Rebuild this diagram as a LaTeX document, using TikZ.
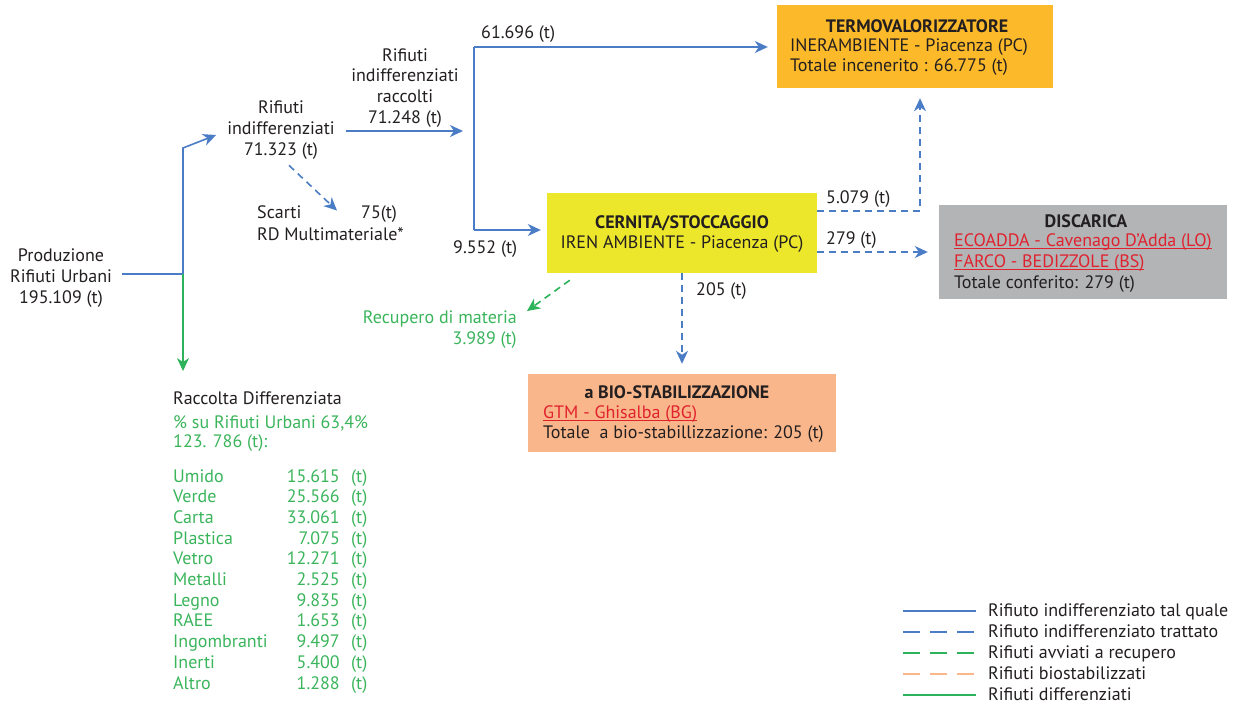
\documentclass[tikz,border=0pt]{standalone}
\usepackage{fontspec}
\setmainfont{PT Sans}
\usetikzlibrary{arrows.meta,positioning}
\definecolor{flowblue}{HTML}{4A7DC5}
\definecolor{flowgreen}{HTML}{2DB35A}
\definecolor{textgreen}{HTML}{3BB55C}
\definecolor{termocol}{HTML}{FCBA2A}
\definecolor{cernitacol}{HTML}{EDE72B}
\definecolor{discacol}{HTML}{B2B4B6}
\definecolor{biocol}{HTML}{F9B68A}
\definecolor{biodash}{HTML}{FBB68A}
\definecolor{sitered}{HTML}{E0222E}
\definecolor{inkdark}{HTML}{231F20}
\newcommand{\site}[1]{{\color{sitered}\setbox0\hbox{#1}\rlap{\rule[-2.5pt]{\wd0}{0.9pt}}\box0}}

\begin{document}
\begin{tikzpicture}[x=1pt,y=-1pt,
  every node/.style={font=\fontsize{18}{20.8}\selectfont, inner sep=0pt, text=inkdark},
  title/.style={font=\fontsize{18}{20.8}\selectfont\bfseries},
  tq/.style={draw=flowblue, line width=1.6pt},
  tqarrow/.style={tq, -{Stealth[length=13pt,width=12pt,inset=4pt]}},
  trarrow/.style={tq, dash pattern=on 7pt off 5pt, -{Stealth[length=13pt,width=12pt,inset=4pt]}},
  recarrow/.style={draw=flowgreen, line width=1.6pt, dash pattern=on 7pt off 5pt, -{Stealth[length=13pt,width=12pt,inset=4pt]}},
  diffarrow/.style={draw=flowgreen, line width=1.6pt, -{Stealth[length=13pt,width=12pt,inset=4pt]}},
  legtq/.style={draw=flowblue, line width=1.8pt},
  legtr/.style={draw=flowblue, line width=1.8pt, dash pattern=on 17pt off 10pt},
  legrec/.style={draw=flowgreen, line width=1.8pt, dash pattern=on 17pt off 10pt},
  legbio/.style={draw=biodash, line width=1.8pt, dash pattern=on 17pt off 10pt},
  legdiff/.style={draw=flowgreen, line width=1.8pt}]
\fill[white] (0,0) rectangle (1234,704);
\useasboundingbox (0,0) rectangle (1234,704);

% impianti
\node[fill=termocol, minimum width=276pt, minimum height=83pt] (termo) at (915,46.5) {};
\node[title] (termo-t) at (917,26) {TERMOVALORIZZATORE};
\node[align=left, anchor=west] (termo-d) at (790,57) {INERAMBIENTE - Piacenza (PC)\\Totale incenerito : 66.775 (t)};

\node[fill=cernitacol, minimum width=270pt, minimum height=80pt] (cern) at (682,233) {};
\node[title] (cern-t) at (682,223) {CERNITA/STOCCAGGIO};
\node (cern-d) at (682,244) {IREN AMBIENTE - Piacenza (PC)};

\node[fill=discacol, minimum width=288pt, minimum height=94pt] (disc) at (1083,252) {};
\node[title] (disc-t) at (1086,221) {DISCARICA};
\node[align=left, anchor=west] (disc-d) at (954,263) {\site{ECOADDA - Cavenago D'Adda (LO)}\\\site{FARCO - BEDIZZOLE (BS)}\\Totale conferito: 279 (t)};

\node[fill=biocol, minimum width=308pt, minimum height=78pt] (bio) at (682,413) {};
\node[title] (bio-t) at (677,392) {a BIO-STABILIZZAZIONE};
\node[align=left, anchor=west] (bio-d) at (543,424) {\site{GTM - Ghisalba (BG)}\\Totale~ a bio-stabillizzazione: 205 (t)};

% flussi
\node[align=center] (prod) at (61,278) {Produzione\\Rifiuti Urbani\\195.109 (t)};
\node[align=center] (rind) at (281,130) {Rifiuti\\indifferenziati\\71.323 (t)};
\node[align=center] (racc) at (405,88) {Rifiuti\\indifferenziati\\raccolti\\71.248 (t)};
\node[anchor=base west] (qtermo) at (481,38) {61.696 (t)};
\node[anchor=base west] (qcern) at (453,253) {9.552 (t)};
\node[anchor=base west] (scarti) at (257,218) {Scarti};
\node[anchor=base west] (qscarti) at (361,218) {75(t)};
\node[anchor=base west] (scarti-rd) at (257,240) {RD Multimateriale*};
\node[anchor=base west] (qtv) at (826,203) {5.079 (t)};
\node[anchor=base west] (qdisc) at (826,244) {279 (t)};
\node[anchor=base west] (qbio) at (696,295) {205 (t)};
\node[align=right, anchor=east, text=textgreen] (recup) at (517,330) {Recupero di materia\\3.989 (t)};

\coordinate (split) at (183,274);
\coordinate (bend) at (183,148);
\coordinate (trunk) at (474,131);
\coordinate (ttop) at (474,47);
\coordinate (tbot) at (474,230);
\coordinate (ctv) at (817,211);
\coordinate (cdisc) at (817,252);

\draw[tq, shorten <=10pt] (prod.east |- split) -- (split);
\draw[tqarrow] (split) -- (bend) -- ([xshift=-11pt,yshift=-5pt]rind.west);
\draw[tqarrow, shorten <=11pt, shorten >=11pt] (rind.east |- trunk) -- (trunk);
\draw[tq] (ttop) -- (tbot);
\draw[tqarrow, shorten >=9pt] (ttop) -- (termo.west |- ttop);
\draw[tqarrow, shorten >=6pt] (tbot) -- (cern.west |- tbot);
\draw[trarrow] ([xshift=8pt,yshift=-6pt]rind.south) -- ([xshift=-24pt,yshift=3pt]qscarti.west);
\draw[trarrow] (ctv) -| ([xshift=5pt,yshift=-10pt]termo.south);
\draw[trarrow, shorten >=11pt] (cdisc) -- (cdisc -| disc.west);
\draw[trarrow, shorten >=10pt] (cern.south) -- (bio.north);
\draw[recarrow] ([xshift=23pt,yshift=-7pt]cern.south west) -- ([xshift=10pt]recup.north east);

% raccolta differenziata
\node[anchor=base west] (rdiff) at (173,404) {Raccolta Differenziata};
\node[anchor=base west, text=textgreen] (rdpct) at (173,428) {\% su Rifiuti Urbani 63,4\%};
\node[anchor=base west, text=textgreen] (rdtot) at (173,447) {123. 786 (t):};
\draw[diffarrow, shorten >=20pt] (split) -- (split |- rdiff.north);
\foreach \mat/\qty [count=\i] in {Umido/15.615, Verde/25.566, Carta/33.061, Plastica/7.075, Vetro/12.271, Metalli/2.525, Legno/9.835, RAEE/1.653, Ingombranti/9.497, Inerti/5.400, Altro/1.288} {
  \node[anchor=base west, text=textgreen] (mat\i) at (173,{482+20.7*(\i-1)}) {\mat};
  \node[anchor=base east, text=textgreen] (qty\i) at (340,{482+20.7*(\i-1)}) {\qty};
  \node[anchor=base west, text=textgreen] (unit\i) at (351,{482+20.7*(\i-1)}) {(t)};
}

% legenda
\foreach \sty/\txt [count=\i] in {legtq/Rifiuto indifferenziato tal quale, legtr/Rifiuto indifferenziato trattato, legrec/Rifiuti avviati a recupero, legbio/Rifiuti biostabilizzati, legdiff/Rifiuti differenziati} {
  \node[anchor=base west] (leg\i) at (988,{616+21*(\i-1)}) {\txt};
  \draw[\sty] ([xshift=-85pt,yshift=5pt]leg\i.base west) -- ([xshift=-12pt,yshift=5pt]leg\i.base west);
}
\end{tikzpicture}
\end{document}
